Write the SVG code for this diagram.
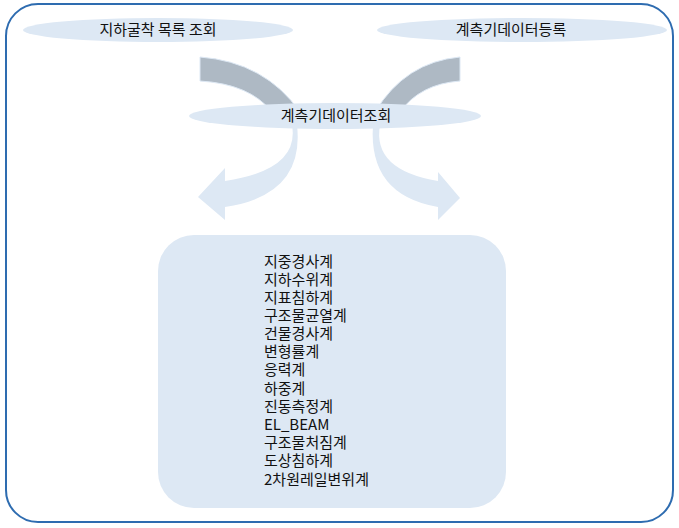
<svg xmlns="http://www.w3.org/2000/svg" width="679" height="528" viewBox="0 0 679 528">
<style>
.t{font-family:"Noto Sans CJK KR","Liberation Sans",sans-serif;font-size:15px;fill:#111}
.e{fill:#dde8f4}
.g{fill:#aeb9c4;stroke:#dde8f4;stroke-width:1}
.l{fill:#dde8f4}
</style>
<rect x="6" y="4" width="667" height="518" rx="32" fill="#fff" stroke="#2e6cb0" stroke-width="2"/>
<g id="connectors">
<path class="g" d="M200,57 Q265,62 300,112 L272,112 Q250,84 200,81 Z"/>
<path class="g" d="M460,57 Q405,62 375,112 L400,112 Q420,84 460,81 Z"/>
<path class="l" d="M292,125 Q300,170 225,181 L225,168 L198,197 L225,220 L225,207 Q305,195 297,125 Z"/>
<path class="l" d="M380,125 Q372,170 438,181 L438,172 L460,198 L438,220 L438,207 Q368,195 373,125 Z"/>
</g>
<g id="n1"><ellipse class="e" cx="158" cy="30" rx="135" ry="12"/><text class="t" x="158" y="35" text-anchor="middle">지하굴착 목록 조회</text></g>
<g id="n2"><ellipse class="e" cx="522" cy="30" rx="145" ry="12"/><text class="t" x="511" y="35" text-anchor="middle">계측기데이터등록</text></g>
<g id="n3"><ellipse class="e" cx="335" cy="116" rx="146" ry="13"/><text class="t" x="336" y="121" text-anchor="middle">계측기데이터조회</text></g>
<g id="n4"><rect class="e" x="158" y="235" width="348" height="273" rx="36"/>
<text class="t" x="264">
<tspan x="264" y="267">지중경사계</tspan><tspan x="264" y="285">지하수위계</tspan><tspan x="264" y="303">지표침하계</tspan><tspan x="264" y="321">구조물균열계</tspan><tspan x="264" y="339">건물경사계</tspan><tspan x="264" y="357">변형률계</tspan><tspan x="264" y="375">응력계</tspan><tspan x="264" y="394">하중계</tspan><tspan x="264" y="412">진동측정계</tspan><tspan x="264" y="430">EL_BEAM</tspan><tspan x="264" y="448">구조물처짐계</tspan><tspan x="264" y="466">도상침하계</tspan><tspan x="264" y="485">2차원레일변위계</tspan>
</text></g>
</svg>
